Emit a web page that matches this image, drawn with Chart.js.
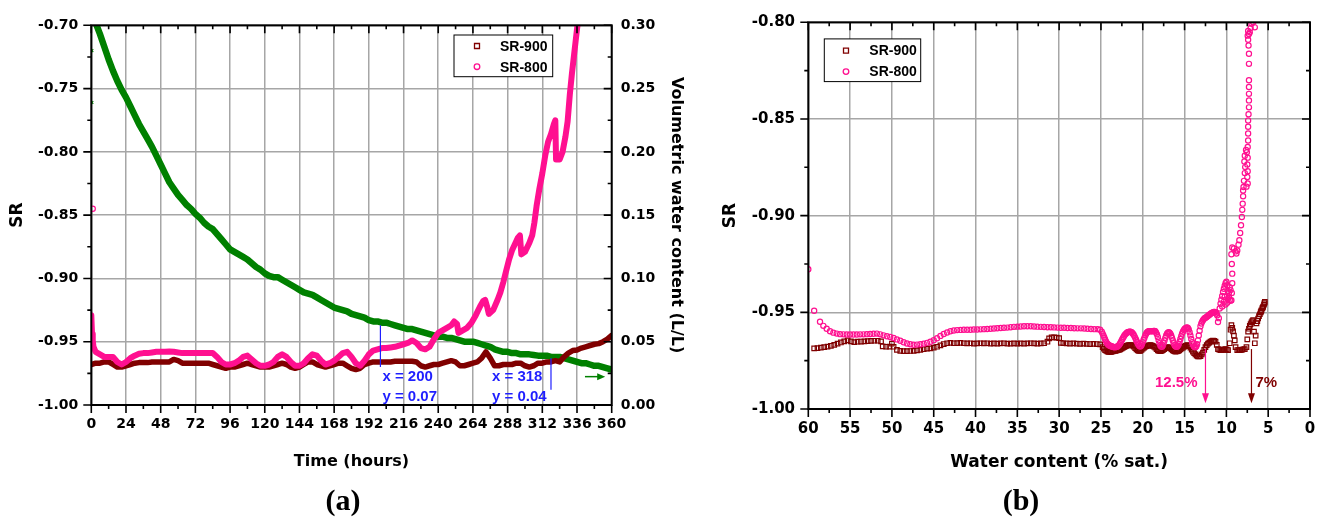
<!DOCTYPE html>
<html>
<head>
<meta charset="utf-8">
<title>SR during drying</title>
<script src="https://cdn.jsdelivr.net/npm/chart.js@4.4.1/dist/chart.umd.min.js"></script>
<style>
  body { margin: 0; background: #fff; }
  #page { position: relative; width: 1338px; height: 518px; overflow: hidden; }
  .panel { position: absolute; top: 0; height: 518px; }
  .tag { position: absolute; top: 500px; transform: translate(-50%, -50%); font: bold 30px "Liberation Serif", "Times New Roman", serif; }
</style>
</head>
<body>
<div id="page">
  <div class="panel" style="left:0;width:700px"><canvas id="timeChart"></canvas></div>
  <div class="panel" style="left:700px;width:638px"><canvas id="satChart"></canvas></div>
  <div class="tag" style="left:343px">(a)</div>
  <div class="tag" style="left:1021px">(b)</div>
</div>
<script>
// ---- panel (a): SR and volumetric water content against time ----
const hours = [0,3,6,9,12,15,18,21,24,27,30,33,36,39,42,45,48,51,54,57,60,63,66,69,72,75,78,81,84,87,
  90,93,96,99,102,105,108,111,114,117,120,123,126,129,132,135,138,141,144,147,150,153,156,159,162,165,168,171,174,177,
  180,183,186,189,192,195,198,201,204,207,210,213,216,219,222,225,228,231,234,237,240,243,246,249,252,255,258,261,264,267,
  270,273,276,279,282,285,288,291,294,297,300,303,306,309,312,315,318,321,324,327,330,333,336,339,342,345,348,351,354,357,360];

const sr900 = [-0.968,-0.967,-0.967,-0.966,-0.966,-0.968,-0.970,-0.970,-0.969,-0.968,-0.967,-0.9665,-0.9665,-0.9665,-0.966,
  -0.966,-0.966,-0.966,-0.966,-0.964,-0.965,-0.967,-0.967,-0.967,-0.967,-0.967,-0.967,-0.967,-0.968,-0.969,
  -0.970,-0.971,-0.970,-0.970,-0.969,-0.968,-0.967,-0.968,-0.969,-0.970,-0.970,-0.970,-0.969,-0.968,-0.967,
  -0.968,-0.970,-0.971,-0.970,-0.968,-0.966,-0.966,-0.968,-0.969,-0.970,-0.969,-0.968,-0.967,-0.967,-0.969,
  -0.971,-0.972,-0.971,-0.968,-0.967,-0.966,-0.966,-0.966,-0.966,-0.966,-0.9655,-0.9655,-0.9655,-0.9655,-0.9655,
  -0.966,-0.969,-0.970,-0.969,-0.968,-0.968,-0.967,-0.966,-0.965,-0.966,-0.969,-0.969,-0.968,-0.967,-0.966,
  -0.963,-0.958,-0.963,-0.969,-0.969,-0.968,-0.968,-0.968,-0.967,-0.967,-0.969,-0.970,-0.969,-0.967,-0.967,
  -0.966,-0.966,-0.965,-0.966,-0.962,-0.959,-0.957,-0.9565,-0.955,-0.954,-0.953,-0.952,-0.9515,-0.950,-0.948,-0.945];

const vwc = [0.312,0.302,0.293,0.283,0.273,0.264,0.256,0.249,0.243,0.236,0.229,0.222,0.216,0.210,0.204,
  0.197,0.190,0.183,0.176,0.171,0.166,0.162,0.158,0.155,0.151,0.148,0.144,0.141,0.139,0.135,
  0.131,0.127,0.123,0.121,0.119,0.117,0.115,0.112,0.109,0.107,0.104,0.102,0.101,0.101,0.099,
  0.097,0.095,0.093,0.091,0.089,0.088,0.087,0.085,0.083,0.081,0.079,0.077,0.076,0.075,0.074,
  0.072,0.071,0.070,0.069,0.067,0.066,0.066,0.065,0.065,0.064,0.063,0.062,0.061,0.060,0.060,
  0.059,0.058,0.057,0.056,0.055,0.054,0.054,0.053,0.053,0.052,0.051,0.050,0.050,0.050,0.049,
  0.048,0.047,0.046,0.044,0.043,0.042,0.042,0.041,0.041,0.040,0.040,0.040,0.0395,0.039,0.039,
  0.039,0.038,0.038,0.038,0.037,0.036,0.035,0.034,0.033,0.033,0.032,0.031,0.031,0.030,0.029,0.028];

const sr800Hours = [0,0.5,1,1.5,3,6,9,12,15,18,21,24,27,30,33,36,39,42,45,48,51,54,57,60,63,66,69,72,75,78,81,84,
  87,90,93,96,99,102,105,108,111,114,117,120,123,126,129,132,135,138,141,144,147,150,153,156,159,162,165,168,171,174,
  177,180,183,186,189,192,195,198,201,204,207,210,213,216,219,222,225,228,231,234,237,240,243,246,249,
  251,253,254,257,260,263,266,269,271,272.5,274,275,278,281,283,285,287,289,291,293,295,296.5,297.5,300,303,
  305,306.5,308,310,312,314,316,318,320,321,321.5,324,326,328,329.5,331,332.5,334,335,336,337];
const sr800 = [-0.929,-0.944,-0.949,-0.954,-0.958,-0.960,-0.962,-0.962,-0.962,-0.966,-0.968,-0.966,-0.963,-0.961,-0.9595,
  -0.959,-0.959,-0.9585,-0.958,-0.958,-0.958,-0.9578,-0.958,-0.9585,-0.959,-0.959,-0.959,-0.959,-0.959,-0.959,-0.959,-0.959,
  -0.962,-0.966,-0.968,-0.968,-0.967,-0.965,-0.962,-0.961,-0.964,-0.967,-0.969,-0.969,-0.968,-0.966,-0.962,-0.960,-0.962,
  -0.966,-0.969,-0.969,-0.967,-0.963,-0.960,-0.961,-0.965,-0.968,-0.967,-0.965,-0.962,-0.959,-0.958,-0.962,-0.967,-0.969,
  -0.965,-0.960,-0.957,-0.956,-0.955,-0.955,-0.9545,-0.954,-0.953,-0.952,-0.951,-0.949,-0.951,-0.955,-0.956,-0.954,-0.948,
  -0.943,-0.941,-0.939,-0.937,
  -0.934,-0.936,-0.943,-0.941,-0.939,-0.935,-0.929,-0.922,-0.918,-0.917,-0.923,-0.928,-0.925,-0.917,-0.911,-0.903,-0.894,
  -0.885,-0.878,-0.873,-0.868,-0.866,-0.881,-0.879,-0.872,-0.866,-0.856,-0.843,-0.829,-0.817,-0.803,-0.792,-0.786,-0.778,
  -0.775,-0.806,-0.806,-0.800,-0.788,-0.776,-0.755,-0.738,-0.723,-0.713,-0.703,-0.695];

// a few isolated readings logged right at start-up
const sr800StartHours = [1];
const sr800Start = [-0.845];
const vwcStartHours = [0.4, 0.4];
const vwcStart = [0.280, 0.239];

// ---- panel (b): SR against water content (% saturation) ----
const satRed = [59.3,58.9,58.5,58.1,57.7,57.3,56.9,56.5,56.1,55.7,55.3,54.9,54.5,54.1,53.7,53.3,52.9,52.5,52.1,51.7,
  51.3,51.1,50.7,50.3,50.0,49.8,49.4,49.0,48.6,48.2,47.8,47.4,47.0,46.6,46.2,45.8,45.4,45.0,44.6,44.2,
  43.8,43.4,43.0,42.6,42.2,41.8,41.4,41.0,40.6,40.2,39.8,39.4,39.0,38.6,38.2,37.8,37.4,37.0,36.6,36.2,
  35.8,35.4,35.0,34.6,34.2,33.8,33.4,33.0,32.6,32.2,31.8,31.4,31.2,30.9,30.6,30.3,30.0,29.8,29.5,29.1,
  28.7,28.3,27.9,27.5,27.1,26.7,26.3,25.9,25.5,25.1,
  24.8,24.65,24.5,24.35,24.2,24.05,23.9,23.75,23.6,23.45,23.3,23.15,23.0,22.85,22.7,22.55,22.4,22.25,22.1,21.95,
  21.8,21.65,21.5,21.35,21.2,21.05,20.9,20.75,20.6,20.45,20.3,20.15,20.0,19.85,19.7,19.55,19.4,19.25,19.1,18.95,
  18.8,18.65,18.5,18.35,18.2,18.05,17.9,17.75,17.6,17.45,17.3,17.15,17.0,16.85,16.7,16.55,16.4,16.25,16.1,15.95,
  15.8,15.65,15.5,15.35,15.2,15.05,14.9,14.75,14.6,14.45,14.3,14.15,14.0,13.85,13.7,13.55,13.4,13.25,13.1,12.95,
  12.8,12.65,12.5,12.35,12.2,12.05,11.9,11.75,11.6,11.45,11.3,11.15,11.0,
  10.85,10.7,10.55,10.4,10.25,10.1,9.95,9.8,9.6,9.5,9.4,9.3,9.2,9.1,9.0,8.9,8.7,8.55,8.4,8.25,
  8.1,7.95,7.8,7.6,7.5,7.4,7.2,7.0,6.8,6.7,6.6,6.5,6.4,6.3,6.2,6.0,5.9,5.8,5.7,5.6,5.5,5.4,
  7.3,7.1,6.9,6.1,5.85,5.65,5.45];
const sr900Sat = [-0.9686,-0.9685,-0.9683,-0.9680,-0.9677,-0.9673,-0.9668,-0.9662,-0.9656,-0.9650,-0.9645,-0.9650,-0.9654,
  -0.9652,-0.9651,-0.9650,-0.9649,-0.9648,-0.9647,-0.9647,-0.9650,-0.9676,-0.9678,-0.9677,-0.9662,-0.9678,-0.9694,-0.9699,
  -0.9701,-0.9701,-0.9700,-0.9699,-0.9697,-0.9694,-0.9691,-0.9688,-0.9686,-0.9683,-0.9678,-0.9671,-0.9664,-0.9660,-0.9658,
  -0.9660,-0.9659,-0.9658,-0.9660,-0.9661,-0.9660,-0.9662,-0.9661,-0.9660,-0.9661,-0.9660,-0.9662,-0.9661,-0.9662,-0.9661,
  -0.9660,-0.9662,-0.9662,-0.9661,-0.9662,-0.9661,-0.9662,-0.9661,-0.9660,-0.9661,-0.9662,-0.9661,-0.9660,-0.9652,-0.9635,
  -0.9630,-0.9630,-0.9631,-0.9633,-0.9658,-0.9660,-0.9661,-0.9662,-0.9661,-0.9662,-0.9663,-0.9662,-0.9663,-0.9664,-0.9663,
  -0.9664,-0.9666,
  -0.9680,-0.9688,-0.9695,-0.9700,-0.9703,-0.9704,-0.9705,-0.9704,-0.9702,-0.9700,
  -0.9699,-0.9698,-0.9696,-0.9694,-0.9692,-0.9688,-0.9684,-0.9680,-0.9676,-0.9673,
  -0.9671,-0.9670,-0.9669,-0.9670,-0.9672,-0.9678,-0.9685,-0.9692,-0.9697,-0.9699,
  -0.9699,-0.9694,-0.9688,-0.9683,-0.9678,-0.9675,-0.9672,-0.9671,-0.9670,-0.9671,
  -0.9673,-0.9678,-0.9683,-0.9690,-0.9697,-0.9700,-0.9701,-0.9699,-0.9695,-0.9690,
  -0.9684,-0.9681,-0.9680,-0.9682,-0.9686,-0.9692,-0.9697,-0.9701,-0.9703,-0.9702,
  -0.9701,-0.9697,-0.9692,-0.9687,-0.9682,-0.9677,-0.9673,-0.9671,-0.9670,-0.9675,
  -0.9682,-0.9693,-0.9703,-0.9711,-0.9718,-0.9724,-0.9728,-0.9728,-0.9727,-0.9718,
  -0.9708,-0.9694,-0.9680,-0.9670,-0.9662,-0.9657,-0.9652,-0.9649,-0.9646,-0.9648,
  -0.9652,-0.9668,-0.9690,
  -0.9693,-0.9695,-0.9695,-0.9694,-0.9692,-0.9690,-0.9693,-0.9695,-0.9660,-0.9590,
  -0.9566,-0.9580,-0.9598,-0.9620,-0.9645,-0.9680,-0.9695,-0.9695,-0.9695,-0.9694,
  -0.9693,-0.9691,-0.9690,-0.9680,-0.9640,-0.9600,-0.9570,-0.9552,-0.9540,-0.9600,
  -0.9660,-0.9620,-0.9557,-0.9545,-0.9532,-0.9510,-0.9500,-0.9490,-0.9480,-0.9470,-0.9460,-0.9446,
  -0.9585,-0.9561,-0.9546,-0.9520,-0.9495,-0.9475,-0.9453];

const satPink = [60.0,59.3,58.6,58.2,57.8,57.4,57.0,56.6,56.2,55.8,55.4,55.0,54.6,54.2,53.8,53.4,53.0,52.6,52.2,51.8,
  51.4,51.0,50.6,50.2,49.8,49.4,49.0,48.6,48.2,47.8,47.4,47.0,46.6,46.2,45.8,45.4,45.0,44.6,44.2,43.8,
  43.4,43.0,42.6,42.2,41.8,41.4,41.0,40.6,40.2,39.8,39.4,39.0,38.6,38.2,37.8,37.4,37.0,36.6,36.2,35.8,
  35.4,35.0,34.6,34.2,33.8,33.4,33.0,32.6,32.2,31.8,31.4,31.0,30.6,30.2,29.8,29.4,29.0,28.6,28.2,27.8,
  27.4,27.0,26.6,26.2,25.8,25.4,25.1,
  24.9,24.8,24.7,24.6,24.5,24.4,24.3,24.2,24.1,24.0,23.9,23.8,23.7,23.6,23.5,23.4,23.3,23.2,23.1,23.0,
  22.9,22.8,22.7,22.6,22.5,22.4,22.3,22.2,22.1,22.0,21.9,21.8,21.7,21.6,21.5,21.4,21.3,21.2,21.1,21.0,
  20.9,20.8,20.7,20.6,20.5,20.4,20.3,20.2,20.1,20.0,19.9,19.8,19.7,19.6,19.5,19.4,19.3,19.2,19.1,19.0,
  18.9,18.8,18.7,18.6,18.5,18.4,18.3,18.2,18.1,18.0,17.9,17.8,17.7,17.6,17.5,17.4,17.3,17.2,17.1,17.0,
  16.9,16.8,16.7,16.6,16.5,16.4,16.3,16.2,16.1,16.0,15.9,15.8,15.7,15.6,15.5,15.4,15.3,15.2,15.1,15.0,
  14.9,14.8,14.7,14.6,14.5,14.4,14.3,14.2,14.1,14.0,13.9,13.8,13.7,13.6,13.5,13.4,13.3,13.2,13.1,13.0,
  12.9,12.8,12.7,12.6,12.5,12.4,12.3,12.2,12.1,12.0,11.9,11.8,11.7,11.6,11.5,11.4,11.3,11.2,11.1,
  11.0,10.9,
  10.8,10.7,10.6,10.5,10.4,10.3,10.2,10.1,10.0,9.9,9.8,9.7,9.6,9.5,9.4,9.35,9.3,9.3,9.35,9.4,
  9.3,9.1,8.9,8.8,8.7,8.55,8.45,8.35,8.25,8.15,8.1,8.05,8.0,8.0,7.95,7.6,7.45,7.9,7.5,7.8,
  7.45,7.75,7.5,7.85,7.45,7.8,7.55,7.65,7.45,7.4,7.4,7.4,7.4,7.35,7.3,7.3,7.3,7.3,7.3,7.3,
  7.3,7.35,7.4,7.45,7.3,7.2,7.4,7.1,7.0,6.6,6.8,
  10.5,10.3,10.1,9.9,9.7,9.5,10.2,9.8,9.6];
const sr800Sat = [-0.9277,-0.9492,-0.9549,-0.9570,-0.9585,-0.9598,-0.9605,-0.9610,-0.9613,-0.9614,-0.9615,-0.9615,-0.9615,
  -0.9615,-0.9614,-0.9614,-0.9613,-0.9612,-0.9611,-0.9610,-0.9614,-0.9619,-0.9624,-0.9628,-0.9633,-0.9640,-0.9647,-0.9655,
  -0.9661,-0.9665,-0.9668,-0.9667,-0.9665,-0.9662,-0.9658,-0.9652,-0.9644,-0.9634,-0.9622,-0.9612,-0.9604,-0.9598,-0.9594,
  -0.9592,-0.9591,-0.9590,-0.9590,-0.9590,-0.9589,-0.9589,-0.9588,-0.9587,-0.9586,-0.9585,-0.9584,-0.9582,-0.9581,-0.9580,
  -0.9579,-0.9577,-0.9575,-0.9574,-0.9573,-0.9572,-0.9572,-0.9572,-0.9573,-0.9574,-0.9575,-0.9576,-0.9577,-0.9577,-0.9578,
  -0.9579,-0.9580,-0.9580,-0.9581,-0.9581,-0.9582,-0.9583,-0.9583,-0.9584,-0.9585,-0.9586,-0.9587,-0.9587,-0.9590,
  -0.9600,-0.9610,-0.9620,-0.9630,-0.9640,-0.9650,-0.9658,-0.9664,-0.9668,-0.9671,
  -0.9673,-0.9675,-0.9677,-0.9678,-0.9679,-0.9680,-0.9680,-0.9679,-0.9678,-0.9676,
  -0.9672,-0.9667,-0.9660,-0.9652,-0.9643,-0.9635,-0.9627,-0.9620,-0.9614,-0.9610,
  -0.9606,-0.9603,-0.9601,-0.9600,-0.9600,-0.9601,-0.9604,-0.9609,-0.9615,-0.9623,
  -0.9632,-0.9642,-0.9652,-0.9661,-0.9668,-0.9674,-0.9677,-0.9673,-0.9665,-0.9654,
  -0.9642,-0.9631,-0.9620,-0.9611,-0.9604,-0.9600,-0.9598,-0.9597,-0.9597,-0.9598,
  -0.9598,-0.9597,-0.9596,-0.9596,-0.9598,-0.9605,-0.9614,-0.9628,-0.9645,-0.9660,
  -0.9672,-0.9677,-0.9678,-0.9671,-0.9660,-0.9646,-0.9632,-0.9620,-0.9610,-0.9605,
  -0.9603,-0.9605,-0.9610,-0.9620,-0.9632,-0.9646,-0.9660,-0.9670,-0.9676,-0.9678,
  -0.9678,-0.9673,-0.9665,-0.9652,-0.9638,-0.9624,-0.9610,-0.9600,-0.9592,-0.9586,
  -0.9582,-0.9579,-0.9578,-0.9581,-0.9588,-0.9603,-0.9620,-0.9638,-0.9655,-0.9667,
  -0.9675,-0.9679,-0.9680,-0.9675,-0.9665,-0.9645,-0.9620,-0.9595,-0.9572,-0.9558,
  -0.9548,-0.9541,-0.9535,-0.9531,-0.9528,-0.9525,-0.9522,-0.9518,-0.9515,-0.9511,
  -0.9508,-0.9505,-0.9502,-0.9500,-0.9498,-0.9498,-0.9500,-0.9506,-0.9515,
  -0.9550,-0.9530,
  -0.9480,-0.9455,-0.9435,-0.9415,-0.9395,-0.9378,-0.9362,-0.9350,-0.9342,-0.9360,-0.9390,-0.9420,-0.9435,-0.9440,-0.9437,
  -0.9400,-0.9350,-0.9300,-0.9250,-0.9200,-0.9165,-0.9170,-0.9185,-0.9196,-0.9180,-0.9150,-0.9127,-0.9090,-0.9050,-0.9007,
  -0.8970,-0.8938,-0.8900,-0.8870,-0.8852,-0.8850,-0.8834,-0.8820,-0.8800,-0.8780,-0.8770,-0.8749,-0.8735,-0.8720,-0.8700,
  -0.8690,-0.8672,-0.8660,-0.8645,-0.8611,-0.8575,-0.8540,-0.8508,-0.8475,-0.8440,-0.8404,-0.8370,-0.8335,-0.8300,-0.8215,
  -0.8163,-0.8120,-0.8090,-0.8069,-0.8060,-0.8052,-0.8045,-0.8030,-0.8008,-0.8026,-0.8000,
  -0.9470,-0.9445,-0.9460,-0.9450,-0.9400,-0.9385,-0.9420,-0.9430,-0.9370];

const seriesNames = ['SR-900', 'SR-800'];
const RED = '#800000', PINK = '#ff1090', GREEN = '#008000', BLUE = '#1f1fff';
const GRID = '#a6a6a6';

const pairs = (xs, ys) => xs.map((x, i) => ({x, y: ys[i]}));

// box, minor ticks and inward ticks on the top and right edges
const frameTicks = {
  id: 'frameTicks',
  afterDraw(chart, args, o) {
    const {ctx, chartArea: a, scales} = chart;
    const rs = scales[o.rightScale] || scales.y;
    const walk = (scale, minor, fn) => {
      const n = Math.round((scale.max - scale.min) / minor);
      for (let i = 0; i <= n; i++) fn(scale.getPixelForValue(scale.min + i * minor), i % 2 ? 4 : 8);
    };
    ctx.save();
    ctx.strokeStyle = '#000';
    ctx.lineWidth = 1.6;
    ctx.beginPath();
    walk(scales.x, o.xMinor, (p, len) => {
      ctx.moveTo(p, a.bottom); ctx.lineTo(p, a.bottom + len);
      ctx.moveTo(p, a.top); ctx.lineTo(p, a.top + len);
    });
    walk(scales.y, o.yMinor, (p, len) => { ctx.moveTo(a.left - len, p); ctx.lineTo(a.left, p); });
    walk(rs, o.rMinor || o.yMinor, (p, len) => { ctx.moveTo(a.right - len, p); ctx.lineTo(a.right, p); });
    ctx.stroke();
    ctx.lineWidth = 2;
    ctx.strokeRect(a.left, a.top, a.right - a.left, a.bottom - a.top);
    ctx.restore();
  }
};

// legend drawn inside the plot area
const keyBox = {
  id: 'keyBox',
  afterDraw(chart, args, o) {
    const {ctx, chartArea: a} = chart;
    const left = a.left + o.left, top = a.top + o.top;
    ctx.save();
    ctx.fillStyle = '#fff';
    ctx.fillRect(left, top, o.width, o.height);
    ctx.strokeStyle = '#000';
    ctx.lineWidth = 1;
    ctx.strokeRect(left, top, o.width, o.height);
    ctx.font = 'bold 14px "Liberation Sans", Arial, sans-serif';
    ctx.textBaseline = 'middle';
    o.rows.forEach((row, i) => {
      const cx = left + o.markerX, cy = top + o.firstRow + i * o.rowGap;
      ctx.strokeStyle = row.color;
      ctx.lineWidth = 1.3;
      ctx.beginPath();
      if (row.shape === 'rect') ctx.rect(cx - 2.5, cy - 2.5, 5, 5);
      else ctx.arc(cx, cy, 2.8, 0, Math.PI * 2);
      ctx.stroke();
      ctx.fillStyle = '#000';
      ctx.fillText(row.label, left + o.textX, cy + 1);
    });
    ctx.restore();
  }
};

// read-out lines, arrows and their captions
const notes = {
  id: 'notes',
  afterDatasetsDraw(chart, args, o) {
    const {ctx} = chart;
    const xs = chart.scales.x;
    ctx.save();
    o.items.forEach(n => {
      const ys = chart.scales[n.scale || 'y'];
      ctx.strokeStyle = n.color;
      ctx.fillStyle = n.color;
      ctx.lineWidth = n.width || 1.2;
      if (n.kind === 'right') {
        const x1 = xs.getPixelForValue(n.x), x2 = xs.getPixelForValue(n.x2), py = ys.getPixelForValue(n.y);
        ctx.beginPath(); ctx.moveTo(x1, py); ctx.lineTo(x2 - 6, py); ctx.stroke();
        ctx.beginPath(); ctx.moveTo(x2, py); ctx.lineTo(x2 - 8, py - 3.5); ctx.lineTo(x2 - 8, py + 3.5); ctx.closePath(); ctx.fill();
        return;
      }
      const px = xs.getPixelForValue(n.x);
      const y1 = ys.getPixelForValue(n.from), y2 = ys.getPixelForValue(n.to);
      ctx.beginPath(); ctx.moveTo(px, y1); ctx.lineTo(px, n.kind === 'down' ? y2 - 6 : y2); ctx.stroke();
      if (n.kind === 'down') {
        ctx.beginPath(); ctx.moveTo(px, y2); ctx.lineTo(px - 3.5, y2 - 10); ctx.lineTo(px + 3.5, y2 - 10); ctx.closePath(); ctx.fill();
      }
      ctx.font = 'bold 15px "Liberation Sans", Arial, sans-serif';
      ctx.textBaseline = 'middle';
      ctx.textAlign = n.align || 'left';
      n.text.forEach((t, i) => ctx.fillText(t, px + n.dx, ys.getPixelForValue(n.textY[i])));
    });
    ctx.restore();
  }
};

const tickFont = size => ({family: 'DejaVu Sans', size, weight: 'bold'});
const titleFont = size => ({family: 'DejaVu Sans', size, weight: 'bold'});

new Chart(document.getElementById('timeChart'), {
  type: 'scatter',
  data: {
    datasets: [
      {label: seriesNames[1], data: pairs(sr800Hours, sr800), showLine: true, borderColor: PINK, borderWidth: 6,
        pointRadius: 0, order: 0, clip: 0, borderJoinStyle: 'round', borderCapStyle: 'round'},
      {label: seriesNames[0], data: pairs(hours, sr900), showLine: true, borderColor: RED, borderWidth: 5.5,
        pointRadius: 0, order: 1, clip: 0, borderJoinStyle: 'round', borderCapStyle: 'round'},
      {label: 'VWC', data: pairs(hours, vwc), yAxisID: 'y1', showLine: true, borderColor: GREEN, borderWidth: 6.5,
        pointRadius: 0, order: 2, clip: 0, borderJoinStyle: 'round'},
      {label: seriesNames[1], data: pairs(sr800StartHours, sr800Start), pointStyle: 'circle', pointRadius: 2.6,
        borderColor: PINK, backgroundColor: 'rgba(0,0,0,0)', pointBorderWidth: 1.2, order: 0},
      {label: 'VWC', data: pairs(vwcStartHours, vwcStart), yAxisID: 'y1', pointStyle: 'crossRot', pointRadius: 2,
        borderColor: GREEN, pointBorderWidth: 1.2, order: 2}
    ]
  },
  options: {
    responsive: true,
    maintainAspectRatio: false,
    animation: false,
    layout: {padding: {top: 25.3, left: 0, right: 0, bottom: 0}},
    plugins: {
      legend: {display: false},
      tooltip: {enabled: false},
      frameTicks: {xMinor: 12, yMinor: 0.025, rMinor: 0.025, rightScale: 'y1'},
      keyBox: {left: 362.7, top: 9.7, width: 98.7, height: 41.7, markerX: 23, firstRow: 11, rowGap: 20.7, textX: 46,
        rows: [{label: seriesNames[0], color: RED, shape: 'rect'}, {label: seriesNames[1], color: PINK, shape: 'circle'}]},
      notes: {items: [
        {kind: 'line', x: 200, scale: 'y1', from: 0.063, to: 0.030, color: BLUE, dx: 2,
          text: ['x = 200', 'y = 0.07'], textY: [0.0221, 0.0063]},
        {kind: 'line', x: 318, scale: 'y1', from: 0.037, to: 0.012, color: BLUE, dx: -59,
          text: ['x = 318', 'y = 0.04'], textY: [0.0221, 0.0063]},
        {kind: 'right', x: 341.5, x2: 355.5, y: 0.0224, scale: 'y1', color: GREEN, width: 1.5}
      ]}
    },
    scales: {
      x: {
        type: 'linear', min: 0, max: 360,
        afterFit: s => { s.height = 113; },
        ticks: {stepSize: 24, autoSkip: false, maxRotation: 0, padding: 10.6, color: '#000', font: tickFont(14)},
        grid: {color: GRID, lineWidth: 1.5, drawTicks: false},
        border: {display: false},
        title: {display: true, text: 'Time (hours)', color: '#000', font: titleFont(16), padding: {top: 0, bottom: 46.4}}
      },
      y: {
        min: -1, max: -0.7,
        afterFit: s => { s.width = 91.3; },
        ticks: {stepSize: 0.05, padding: 13, color: '#000', font: tickFont(14), callback: v => v.toFixed(2)},
        grid: {color: GRID, lineWidth: 1.5, drawTicks: false},
        border: {display: false},
        title: {display: true, text: 'SR', color: '#000', font: titleFont(17), padding: {top: 7.3, bottom: 0}}
      },
      y1: {
        position: 'right', min: 0, max: 0.3,
        afterFit: s => { s.width = 88.3; },
        ticks: {stepSize: 0.05, padding: 9, color: '#000', font: tickFont(14), callback: v => v.toFixed(2)},
        grid: {drawOnChartArea: false, drawTicks: false},
        border: {display: false},
        title: {display: true, text: 'Volumetric water content (L/L)', color: '#000', font: titleFont(16),
          padding: {top: 14.4, bottom: 0}}
      }
    }
  },
  plugins: [frameTicks, keyBox, notes]
});

new Chart(document.getElementById('satChart'), {
  type: 'scatter',
  data: {
    datasets: [
      {label: seriesNames[1], data: pairs(satPink, sr800Sat), pointStyle: 'circle', pointRadius: 2.6,
        borderColor: PINK, backgroundColor: 'rgba(0,0,0,0)', pointBorderWidth: 1.2, order: 0, clip: 0},
      {label: seriesNames[0], data: pairs(satRed, sr900Sat), pointStyle: 'rect', pointRadius: 3.2,
        borderColor: RED, backgroundColor: 'rgba(0,0,0,0)', pointBorderWidth: 1.2, order: 1, clip: 0}
    ]
  },
  options: {
    responsive: true,
    maintainAspectRatio: false,
    animation: false,
    layout: {padding: {top: 21.7, left: 0, right: 28, bottom: 0}},
    plugins: {
      legend: {display: false},
      tooltip: {enabled: false},
      frameTicks: {xMinor: 2.5, yMinor: 0.025},
      keyBox: {left: 16, top: 16.6, width: 96.4, height: 42.7, markerX: 21.7, firstRow: 11.7, rowGap: 21, textX: 45,
        rows: [{label: seriesNames[0], color: RED, shape: 'rect'}, {label: seriesNames[1], color: PINK, shape: 'circle'}]},
      notes: {items: [
        {kind: 'down', x: 12.5, from: -0.969, to: -0.997, color: PINK, dx: -8, align: 'right',
          text: ['12.5%'], textY: [-0.9866]},
        {kind: 'down', x: 7, from: -0.969, to: -0.997, color: RED, dx: 4,
          text: ['7%'], textY: [-0.9866]}
      ]}
    },
    scales: {
      x: {
        type: 'linear', min: 0, max: 60, reverse: true,
        afterFit: s => { s.height = 109; },
        ticks: {stepSize: 5, autoSkip: false, maxRotation: 0, padding: 11, color: '#000', font: tickFont(15)},
        grid: {color: GRID, lineWidth: 1.5, drawTicks: false},
        border: {display: false},
        title: {display: true, text: 'Water content (% sat.)', color: '#000', font: titleFont(17), padding: {top: 0, bottom: 44.8}}
      },
      y: {
        min: -1, max: -0.8,
        afterFit: s => { s.width = 108.3; },
        ticks: {stepSize: 0.05, padding: 13.3, color: '#000', font: tickFont(15), callback: v => v.toFixed(2)},
        grid: {color: GRID, lineWidth: 1.5, drawTicks: false},
        border: {display: false},
        title: {display: true, text: 'SR', color: '#000', font: titleFont(17), padding: {top: 20.8, bottom: 0}}
      }
    }
  },
  plugins: [frameTicks, keyBox, notes]
});
</script>
</body>
</html>
